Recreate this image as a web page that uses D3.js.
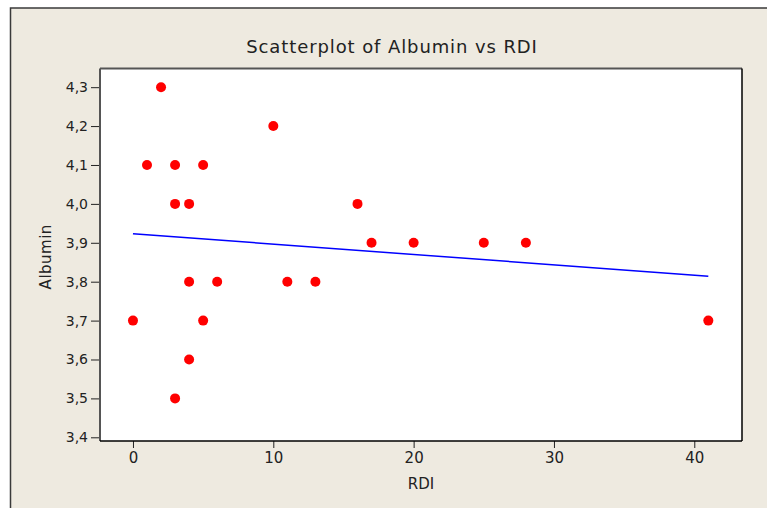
<!DOCTYPE html>
<html>
<head>
<meta charset="utf-8">
<script src="https://cdn.jsdelivr.net/npm/d3@7"></script>
<style>
  html, body { margin: 0; padding: 0; background: #fff; }
  svg { display: block; }
  text { font-family: "DejaVu Sans", Verdana, sans-serif; fill: #222; }
</style>
</head>
<body>
<svg id="chart" width="767" height="508"></svg>
<script>
// data
const rdi     = [0, 1, 2, 3, 3, 3, 4, 4, 4, 5, 5, 6, 10, 11, 13, 16, 17, 20, 25, 28, 41];
const albumin = [3.7, 4.1, 4.3, 4.1, 4.0, 3.5, 4.0, 3.8, 3.6, 4.1, 3.7, 3.8, 4.2, 3.8, 3.8, 4.0, 3.9, 3.9, 3.9, 3.9, 3.7];
const xTicks = [0, 10, 20, 30, 40];
const yTicks = [3.4, 3.5, 3.6, 3.7, 3.8, 3.9, 4.0, 4.1, 4.2, 4.3];
const xDomain = [-2.35, 43.4];
const yDomain = [3.3905, 4.348];

const W = 767, H = 508;
const plot = {left: 100, right: 742, top: 68.5, bottom: 441};

const svg = d3.select("#chart");

// outer panel
svg.append("rect").attr("x", 10.5).attr("y", 8).attr("width", W).attr("height", H)
  .attr("fill", "#eeeae0").attr("stroke", "#3a3a3a").attr("stroke-width", 1.5);

const x = d3.scaleLinear().domain(xDomain).range([plot.left, plot.right]);
const y = d3.scaleLinear().domain(yDomain).range([plot.bottom, plot.top]);

// plot area
svg.append("rect")
  .attr("x", plot.left).attr("y", plot.top)
  .attr("width", plot.right - plot.left).attr("height", plot.bottom - plot.top)
  .attr("fill", "#fff");

const fmt = v => d3.format(".1f")(v).replace(".", ",");

const xAxis = svg.append("g")
  .attr("transform", `translate(0,${plot.bottom})`)
  .call(d3.axisBottom(x).tickValues(xTicks).tickSize(7).tickPadding(4));
const yAxis = svg.append("g")
  .attr("transform", `translate(${plot.left},0)`)
  .call(d3.axisLeft(y).tickValues(yTicks).tickFormat(fmt).tickSize(9).tickPadding(3));

[xAxis, yAxis].forEach(g => {
  g.select(".domain").remove();
  g.selectAll("line").attr("stroke", "#222");
  g.selectAll("text").attr("font-family", "DejaVu Sans, Verdana, sans-serif").attr("fill", "#222");
});
xAxis.selectAll("text").attr("font-size", 15);
yAxis.selectAll("text").attr("font-size", 14);

// frame: darker top/left, black right/bottom
svg.append("line").attr("x1", plot.left).attr("x2", plot.right).attr("y1", plot.top).attr("y2", plot.top)
  .attr("stroke", "#555").attr("stroke-width", 2);
svg.append("line").attr("x1", plot.left).attr("x2", plot.left).attr("y1", plot.top).attr("y2", plot.bottom)
  .attr("stroke", "#555").attr("stroke-width", 2);
svg.append("line").attr("x1", plot.right).attr("x2", plot.right).attr("y1", plot.top).attr("y2", plot.bottom)
  .attr("stroke", "#000").attr("stroke-width", 1.5);
svg.append("line").attr("x1", plot.left).attr("x2", plot.right).attr("y1", plot.bottom).attr("y2", plot.bottom)
  .attr("stroke", "#000").attr("stroke-width", 1.5);

// least-squares fit line
const mx = d3.mean(rdi), my = d3.mean(albumin);
const slope = d3.sum(rdi, (v, i) => (v - mx) * (albumin[i] - my)) / d3.sum(rdi, v => (v - mx) ** 2);
const icpt = my - slope * mx;
const [x0, x1] = d3.extent(rdi);
svg.append("line")
  .attr("x1", x(x0)).attr("y1", y(icpt + slope * x0))
  .attr("x2", x(x1)).attr("y2", y(icpt + slope * x1))
  .attr("stroke", "#0000ff").attr("stroke-width", 1.5);

// points
svg.append("g").selectAll("circle")
  .data(rdi.map((v, i) => [v, albumin[i]]))
  .join("circle")
  .attr("cx", d => x(d[0])).attr("cy", d => y(d[1]))
  .attr("r", 5).attr("fill", "#ff0000");

// titles
svg.append("text").attr("x", 392).attr("y", 53).attr("text-anchor", "middle")
  .attr("font-size", 18).attr("letter-spacing", 0.9).text("Scatterplot of Albumin vs RDI");
svg.append("text").attr("x", (plot.left + plot.right) / 2).attr("y", 489).attr("text-anchor", "middle")
  .attr("font-size", 15).text("RDI");
svg.append("text").attr("transform", `translate(51,${(plot.top + plot.bottom) / 2 + 2}) rotate(-90)`)
  .attr("text-anchor", "middle").attr("font-size", 15).attr("letter-spacing", 0.5).text("Albumin");
</script>
</body>
</html>
